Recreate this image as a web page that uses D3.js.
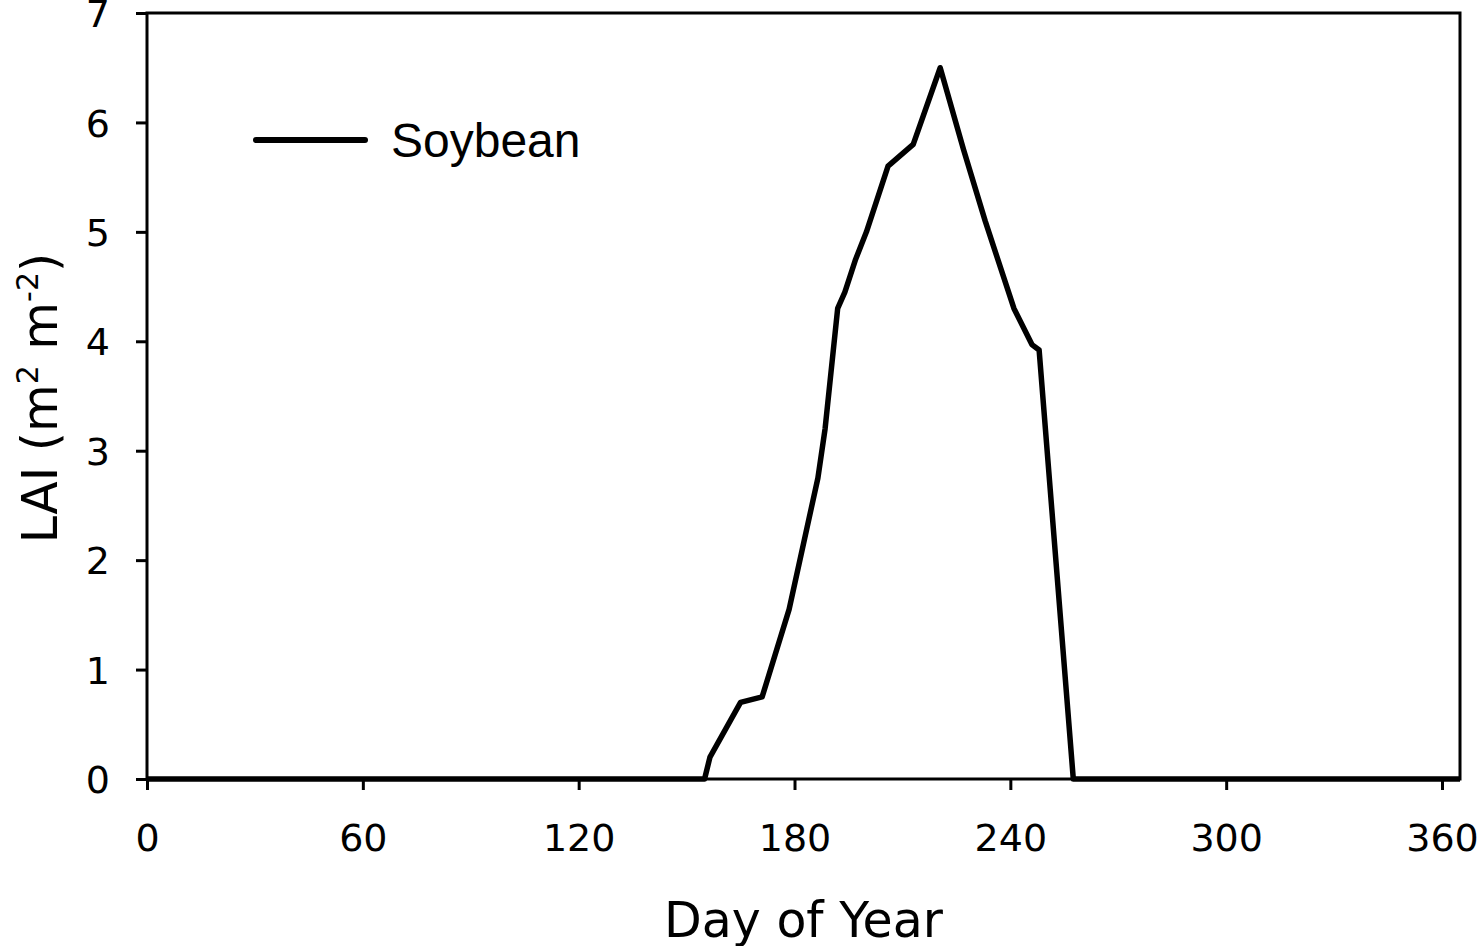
<!DOCTYPE html>
<html>
<head>
<meta charset="utf-8">
<script src="https://cdn.jsdelivr.net/npm/d3@7"></script>
<style>
  body { margin: 0; background: #fff; }
  text { fill: #000; }
</style>
</head>
<body>
<svg></svg>
<script>
// soybean LAI by day of year
let days = [0, 155, 156.5, 165, 171, 178.5, 186.5, 188.5, 192, 194, 197, 200, 206, 213, 220.5, 227, 233, 241, 246, 248, 257.5, 365]
let lai  = [0, 0, 0.2, 0.7, 0.75, 1.55, 2.75, 3.2, 4.3, 4.45, 4.75, 5.0, 5.6, 5.8, 6.5, 5.75, 5.1, 4.3, 3.97, 3.92, 0, 0]
let xTicks = [0, 60, 120, 180, 240, 300, 360]
let yTicks = [0, 1, 2, 3, 4, 5, 6, 7]
let seriesName = 'Soybean'

let width = 1482,
    height = 946,
    margin = {top: 13, left: 147, right: 22, bottom: 167}

let svg = d3.select('svg').attr('width', width).attr('height', height)

let x = d3.scaleLinear().domain([0, 365]).range([margin.left, width - margin.right])
let y = d3.scaleLinear().domain([0, 7]).range([height - margin.bottom, margin.top])

let tickFont = '"DejaVu Sans", Verdana, sans-serif'

// frame
svg.append('rect')
  .attr('x', x(0)).attr('y', y(7))
  .attr('width', x(365) - x(0)).attr('height', y(0) - y(7))
  .attr('fill', 'none').attr('stroke', '#000').attr('stroke-width', 3)

// axes
let xAxis = svg.append('g')
  .attr('transform', `translate(0,${y(0)})`)
  .call(d3.axisBottom(x).tickValues(xTicks).tickSize(11).tickPadding(34).tickFormat(d3.format('d')))
let yAxis = svg.append('g')
  .attr('transform', `translate(${x(0)},0)`)
  .call(d3.axisLeft(y).tickValues(yTicks).tickSize(11).tickPadding(26).tickFormat(d3.format('d')))

;[xAxis, yAxis].forEach(a => {
  a.select('.domain').remove()
  a.selectAll('line').attr('stroke', '#000').attr('stroke-width', 3)
  a.selectAll('text').attr('font-family', tickFont).attr('font-size', 38).attr('fill', '#000')
})
xAxis.selectAll('text').attr('dy', '0.71em')
yAxis.selectAll('text').attr('dy', '0.36em')

// data line
let data = days.map((d, i) => ({day: d, v: lai[i]}))
svg.append('path')
  .datum(data)
  .attr('fill', 'none')
  .attr('stroke', '#000')
  .attr('stroke-width', 5.5)
  .attr('stroke-linejoin', 'round')
  .attr('d', d3.line().x(d => x(d.day)).y(d => y(d.v)))

// axis titles
svg.append('text')
  .attr('x', (x(0) + x(365)) / 2)
  .attr('y', 937)
  .attr('text-anchor', 'middle')
  .attr('font-family', tickFont)
  .attr('font-size', 49)
  .text('Day of Year')

let yl = svg.append('text')
  .attr('transform', `translate(57,${(y(0) + y(7)) / 2 + 2}) rotate(-90)`)
  .attr('text-anchor', 'middle')
  .attr('font-family', tickFont)
  .attr('font-size', 49)
yl.append('tspan').text('LAI (m')
yl.append('tspan').attr('dy', -19).attr('font-size', 30).text('2')
yl.append('tspan').attr('dy', 19).text(' m')
yl.append('tspan').attr('dy', -19).attr('font-size', 30).text('-2')
yl.append('tspan').attr('dy', 19).text(')')

// legend
let lg = svg.append('g')
lg.append('line')
  .attr('x1', 256).attr('x2', 365).attr('y1', 140).attr('y2', 140)
  .attr('stroke', '#000').attr('stroke-width', 6).attr('stroke-linecap', 'round')
lg.append('text')
  .attr('x', 391).attr('y', 157)
  .attr('font-family', '"Liberation Sans", Arial, sans-serif')
  .attr('font-size', 48)
  .text(seriesName)
</script>
</body>
</html>
